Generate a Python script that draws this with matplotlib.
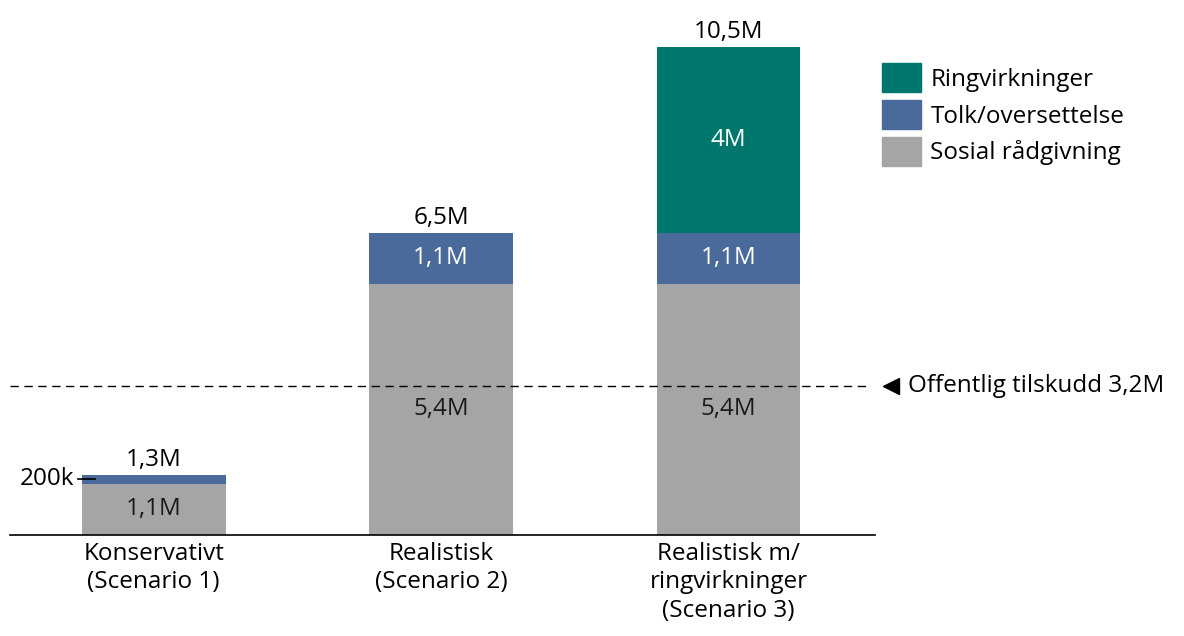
import numpy as np
import matplotlib
matplotlib.use('Agg')
import matplotlib.pyplot as plt
from matplotlib.patches import Patch

plt.rcParams['font.family'] = ['Open Sans', 'DejaVu Sans']

# data (millioner NOK)
scenarios = ['Konservativt\n(Scenario 1)', 'Realistisk\n(Scenario 2)',
             'Realistisk m/\nringvirkninger\n(Scenario 3)']
sosial = [1.1, 5.4, 5.4]
tolk = [0.2, 1.1, 1.1]
ring = [0.0, 0.0, 4.0]
sosial_lbl = ['1,1M', '5,4M', '5,4M']
tolk_lbl = ['', '1,1M', '1,1M']
ring_lbl = ['', '', '4M']
total_lbl = ['1,3M', '6,5M', '10,5M']
tilskudd = 3.2

c_gray = '#a5a5a5'
c_blue = '#4a6a9b'
c_teal = '#00776c'

fig = plt.figure(figsize=(11.84, 6.36), dpi=100)
ax = fig.add_axes([10 / 1184, 101 / 636, 865 / 1184, 525 / 636])

x = np.arange(len(scenarios))
w = 0.5
sosial = np.array(sosial)
tolk = np.array(tolk)
ring = np.array(ring)

ax.bar(x, sosial, w, color=c_gray)
ax.bar(x, tolk, w, bottom=sosial, color=c_blue)
ax.bar(x, ring, w, bottom=sosial + tolk, color=c_teal)

fs = 17.5
for i in range(len(x)):
    ax.text(x[i], sosial[i] / 2, sosial_lbl[i], ha='center', va='center',
            fontsize=fs, color='#1a1a1a')
    if tolk_lbl[i]:
        ax.text(x[i], sosial[i] + tolk[i] / 2, tolk_lbl[i], ha='center',
                va='center', fontsize=fs, color='white')
    if ring_lbl[i]:
        ax.text(x[i], sosial[i] + tolk[i] + ring[i] / 2, ring_lbl[i],
                ha='center', va='center', fontsize=fs, color='white')
    top = sosial[i] + tolk[i] + ring[i]
    ax.annotate(total_lbl[i], (x[i], top), xytext=(0, 2),
                textcoords='offset points', ha='center', va='bottom',
                fontsize=fs, color='black')

# 200k marker on the first bar
y200 = sosial[0] + tolk[0] / 2
ax.plot([-0.265, -0.205], [y200, y200], color='black', lw=1.2)
ax.text(-0.275, y200, '200k', ha='right', va='center', fontsize=fs)

# public subsidy line
ax.axhline(tilskudd, xmin=0, xmax=0.995, color='black', lw=1,
           ls=(0, (6, 4)))
ax.plot([2.565], [tilskudd], marker='<', color='black', ms=12,
        clip_on=False)
ax.text(2.625, tilskudd, 'Offentlig tilskudd 3,2M', ha='left', va='center',
        fontsize=fs, clip_on=False)

ax.set_xlim(-0.5, 2.51)
ax.set_ylim(0, 525 / 46.5)
ax.set_xticks(x)
ax.set_xticklabels(scenarios, fontsize=fs, linespacing=1.25)
ax.tick_params(axis='x', length=0, pad=5)
ax.set_yticks([])
for s in ['top', 'right', 'left']:
    ax.spines[s].set_visible(False)
ax.spines['bottom'].set_linewidth(1.2)

handles = [Patch(color=c_teal, label='Ringvirkninger'),
           Patch(color=c_blue, label='Tolk/oversettelse'),
           Patch(color=c_gray, label='Sosial rådgivning')]
fig.legend(handles=handles, loc='upper left',
           bbox_to_anchor=(872 / 1184, 1 - 53 / 636), frameon=False,
           fontsize=fs, handlelength=1.6, handleheight=1.5,
           labelspacing=0.3, handletextpad=0.4, borderaxespad=0)

fig.savefig('out.png', dpi=100)
